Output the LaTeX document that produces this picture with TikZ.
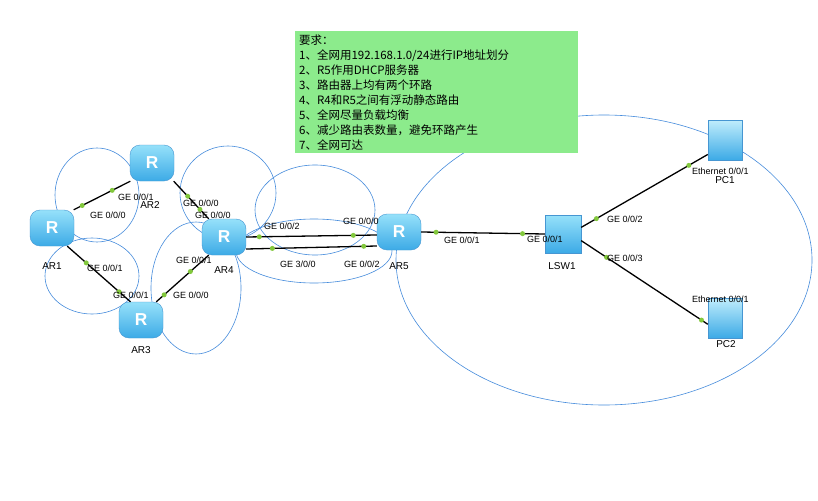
\documentclass[tikz,border=0pt]{standalone}
\usepackage{fontspec}
\setmainfont{Liberation Sans}
\newfontfamily\cjk{Noto Sans CJK SC}
\definecolor{devtop}{RGB}{150,225,250}
\definecolor{devbot}{RGB}{60,170,230}
\definecolor{devline}{RGB}{70,150,210}
\definecolor{reqbg}{RGB}{140,235,140}
\definecolor{dotc}{RGB}{130,200,60}
\definecolor{loopc}{RGB}{70,140,220}
\begin{document}
\begin{tikzpicture}[x=1pt,y=-1pt,
  router/.style={rectangle,rounded corners=10pt,minimum width=44pt,minimum height=36pt,
    top color=devtop,bottom color=devbot,draw=devline,
    text=white,font=\bfseries\LARGE,inner sep=0pt},
  switch/.style={rectangle,minimum width=36pt,minimum height=38pt,
    top color=devtop,bottom color=devbot,draw=devline,inner sep=0pt},
  pc/.style={rectangle,minimum width=34pt,minimum height=40pt,
    top color=devtop!60,bottom color=devbot,draw=devline,inner sep=0pt},
  link/.style={line width=1.3pt,black},
  dot/.style={circle,fill=dotc,inner sep=0pt,minimum size=5pt},
  lbl/.style={font=\fontsize{9}{10}\selectfont,inner sep=1pt},
  devname/.style={font=\fontsize{10}{11}\selectfont,inner sep=1pt},
  loop/.style={draw=loopc,line width=0.6pt}]
\useasboundingbox (0,0) rectangle (818,500);
\fill[white] (0,0) rectangle (818,500);
% loops
\draw[loop] (97,195) ellipse [x radius=42,y radius=47];
\draw[loop] (92,276) ellipse [x radius=47,y radius=38];
\draw[loop] (228,193) ellipse [x radius=48,y radius=47];
\draw[loop] (196,288) ellipse [x radius=45,y radius=66];
\draw[loop] (315,210) ellipse [x radius=60,y radius=45];
\draw[loop] (314,251) ellipse [x radius=78,y radius=32];
\draw[loop] (604,260) ellipse [x radius=208,y radius=145];
% requirement box
\node[fill=reqbg,draw=none,anchor=north west,minimum width=283pt,minimum height=122pt,
  align=left,inner xsep=4pt,inner ysep=2pt,text width=275pt,font=\cjk\fontsize{11.5}{15}\selectfont] (req) at (295,31)
  {要求：\\1、全网用192.168.1.0/24进行IP地址划分\\2、R5作用DHCP服务器\\3、路由器上均有两个环路\\4、R4和R5之间有浮动静态路由\\5、全网尽量负载均衡\\6、减少路由表数量，避免环路产生\\7、全网可达};
% devices
\node[router] (AR1) at (52,228) {R};
\node[router] (AR2) at (152,163) {R};
\node[router] (AR3) at (141,320) {R};
\node[router] (AR4) at (224,237) {R};
\node[router] (AR5) at (399,232) {R};
\node[switch] (LSW1) at (563,234) {};
\node[pc] (PC1) at (725,140) {};
\node[pc] (PC2) at (725,318) {};
\node[devname] (nAR1) at (52,266) {AR1};
\node[devname] (nAR2) at (150,205) {AR2};
\node[devname] (nAR3) at (141,350) {AR3};
\node[devname] (nAR4) at (224,270) {AR4};
\node[devname] (nAR5) at (399,266) {AR5};
\node[devname] (nLSW1) at (562,266) {LSW1};
\node[devname] (nPC1) at (725,180) {PC1};
\node[devname] (nPC2) at (726,344) {PC2};
% links with port dots
\draw[link] (AR1.40) -- (AR2.220) node[dot,pos=0.15] (d1) {} node[dot,pos=0.68] (d2) {};
\draw[link] (AR2.320) -- (AR4.130) node[dot,pos=0.4] (d3) {} node[dot,pos=0.75] (d4) {};
\draw[link] (AR1.310) -- (AR3.120) node[dot,pos=0.3] (d5) {} node[dot,pos=0.82] (d6) {};
\draw[link] (AR3.50) -- (AR4.230) node[dot,pos=0.15] (d7) {} node[dot,pos=0.65] (d8) {};
\draw[link] (AR4.east) -- ([yshift=-3pt]AR5.west) node[dot,pos=0.1] (d9) {} node[dot,pos=0.82] (d10) {};
\draw[link] ([yshift=-12pt]AR4.east) -- ([yshift=-14pt]AR5.west) node[dot,pos=0.2] (d11) {} node[dot,pos=0.9] (d12) {};
\draw[link] (AR5.east) -- (LSW1.west) node[dot,pos=0.12] (d13) {} node[dot,pos=0.82] (d14) {};
\draw[link] (LSW1.20) -- (PC1.220) node[dot,pos=0.12] (d15) {} node[dot,pos=0.85] (d16) {};
\draw[link] (LSW1.340) -- (PC2.200) node[dot,pos=0.2] (d17) {} node[dot,pos=0.95] (d18) {};
% port labels
\node[lbl,anchor=west] (l1) at (89,215) {GE 0/0/0};
\node[lbl,anchor=west] (l2) at (117,197) {GE 0/0/1};
\node[lbl,anchor=west] (l3) at (182,203) {GE 0/0/0};
\node[lbl,anchor=west] (l4) at (194,215) {GE 0/0/0};
\node[lbl,anchor=west] (l5) at (86,268) {GE 0/0/1};
\node[lbl,anchor=west] (l6) at (112,295) {GE 0/0/1};
\node[lbl,anchor=west] (l7) at (172,295) {GE 0/0/0};
\node[lbl,anchor=west] (l8) at (175,260) {GE 0/0/1};
\node[lbl,anchor=west] (l9) at (263,226) {GE 0/0/2};
\node[lbl,anchor=west] (l10) at (342,221) {GE 0/0/0};
\node[lbl,anchor=west] (l11) at (279,264) {GE 3/0/0};
\node[lbl,anchor=west] (l12) at (343,264) {GE 0/0/2};
\node[lbl,anchor=west] (l13) at (443,240) {GE 0/0/1};
\node[lbl,anchor=west] (l14) at (526,239) {GE 0/0/1};
\node[lbl,anchor=west] (l15) at (606,219) {GE 0/0/2};
\node[lbl,anchor=west] (l16) at (691,171) {Ethernet 0/0/1};
\node[lbl,anchor=west] (l17) at (606,258) {GE 0/0/3};
\node[lbl,anchor=west] (l18) at (691,299) {Ethernet 0/0/1};
\end{tikzpicture}
\end{document}
